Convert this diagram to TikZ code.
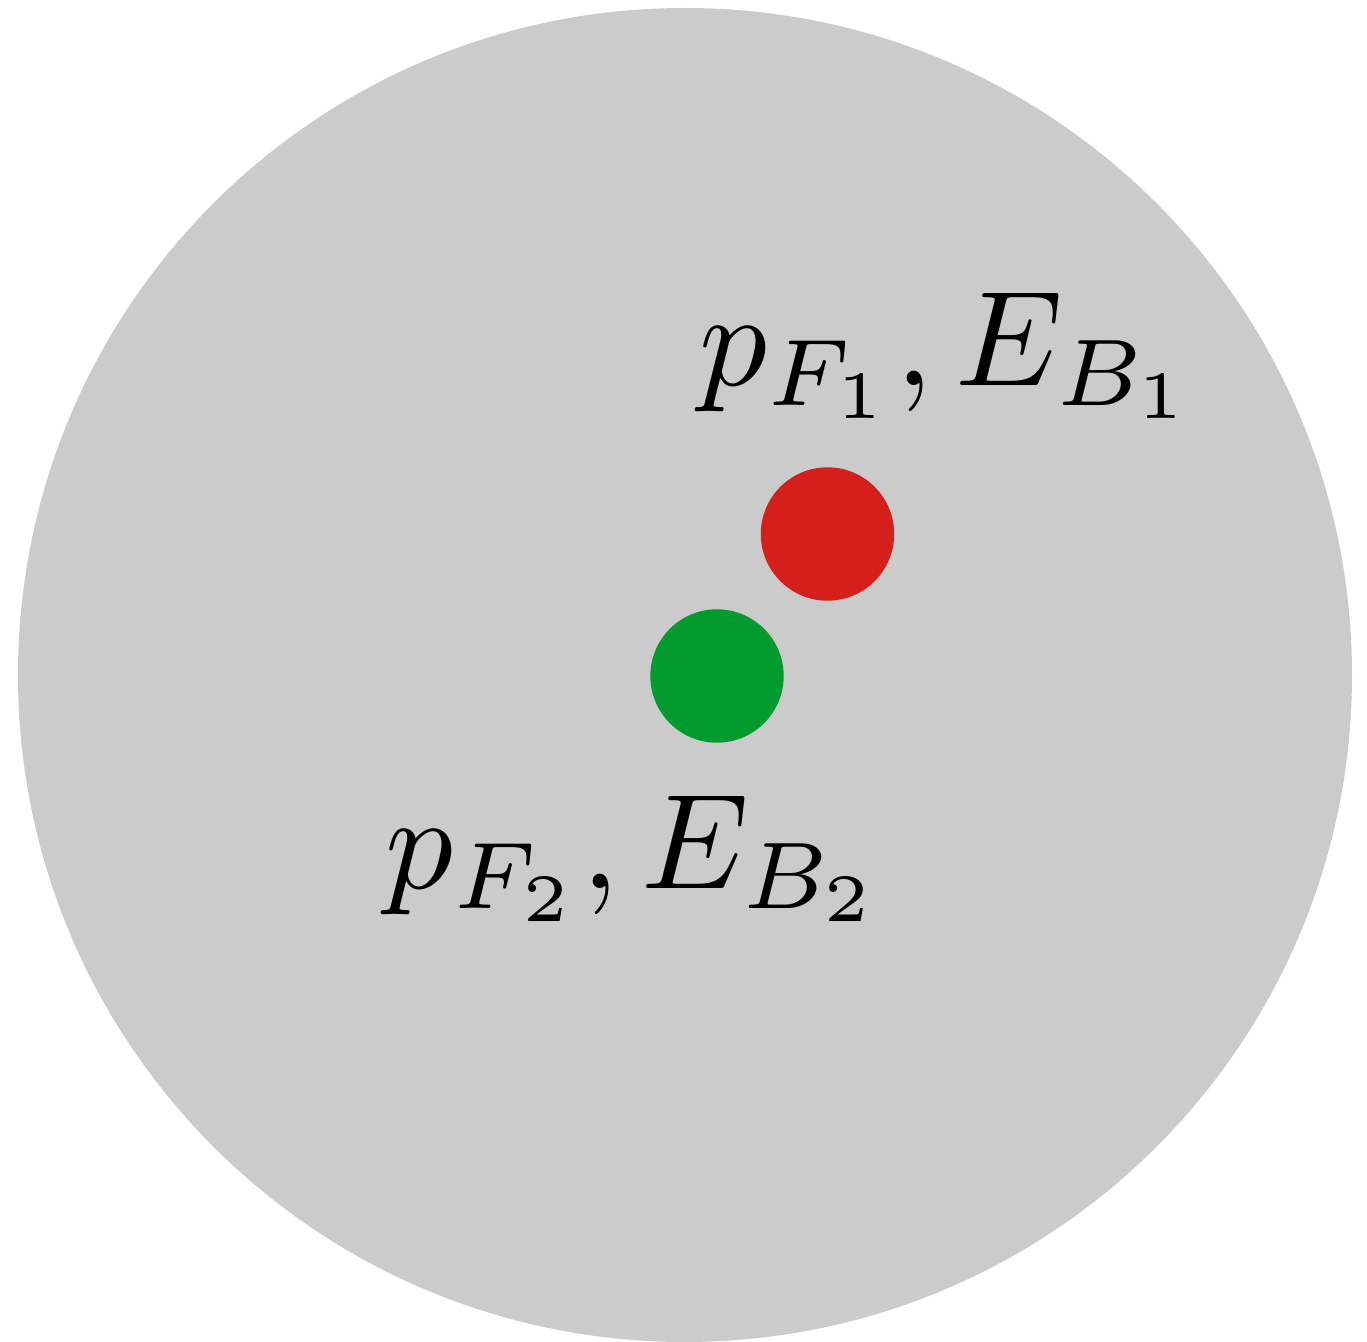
\documentclass[tikz,border=0pt]{standalone}
\usetikzlibrary{positioning}
\definecolor{ballgray}{HTML}{CBCBCB}
\definecolor{dotred}{HTML}{D41F1A}
\definecolor{dotgreen}{HTML}{039A2E}
\tikzset{
  dot/.style={circle,inner sep=0pt,minimum size=1.334cm},
  lbl/.style={scale=3.85,inner sep=0pt,anchor=base west}
}

\begin{document}
\begin{tikzpicture}
\useasboundingbox (0,0) rectangle (13.67,13.41);
\begin{scope}
\clip (0,0) rectangle (13.67,13.41);
\draw[fill=ballgray,draw=none] (6.85,6.66) circle (6.67);
\end{scope}
\node[dot,fill=dotred] (R) at (8.275,8.07) {};
\node[dot,fill=dotgreen] (G) at (7.17,6.65) {};
\node[lbl] (L1) at (6.97,9.56) {$p_{F_1}, E_{B_1}$};
\node[lbl] (L2) at (3.83,4.53) {$p_{F_2}, E_{B_2}$};
\end{tikzpicture}
\end{document}
